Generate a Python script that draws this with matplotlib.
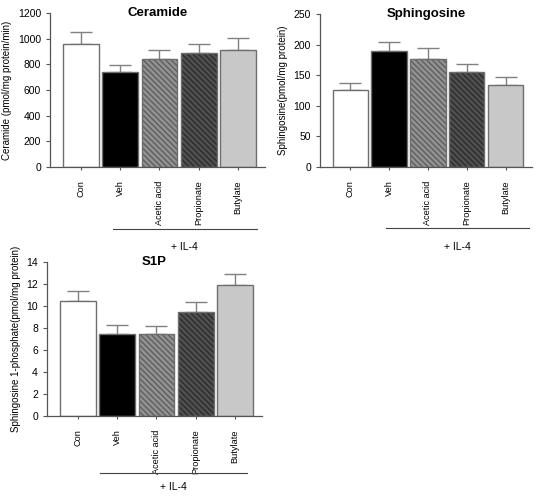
import numpy as np
import matplotlib
matplotlib.use("Agg")
import matplotlib.pyplot as plt
import matplotlib.transforms as mtransforms

plt.rcParams['font.family'] = ['Liberation Sans', 'DejaVu Sans']
plt.rcParams['hatch.linewidth'] = 1.0

groups = ["Con", "Veh", "Acetic acid", "Propionate", "Butylate"]

ceramide_mean = [960, 737, 844, 887, 911]
ceramide_err = [91, 58, 70, 70, 94]

sphingosine_mean = [126, 190, 176, 156, 134]
sphingosine_err = [11, 15, 18, 13, 13]

s1p_mean = [10.5, 7.5, 7.5, 9.45, 11.88]
s1p_err = [0.86, 0.74, 0.68, 0.91, 1.06]

face_colors = ["white", "black", "#929292", "#505050", "#c8c8c8"]
hatch_colors = ["white", "black", "#5e5e5e", "#2c2c2c", "#c8c8c8"]
hatches = [None, None, "\\\\\\\\\\\\", "\\\\\\\\\\\\", None]


def draw_panel(ax, means, errs, title, ylabel, ymax, ystep, line_y, text_y, line_x):
    x = np.arange(len(groups))
    for i in range(len(groups)):
        ax.bar(x[i], means[i], width=0.91, color=face_colors[i],
               edgecolor=hatch_colors[i], hatch=hatches[i], linewidth=0, zorder=2)
        ax.bar(x[i], means[i], width=0.91, fill=False,
               edgecolor="#6e6e6e", linewidth=1.0, zorder=3)
    ax.errorbar(x, means, yerr=[np.zeros(len(errs)), errs], fmt='none',
                ecolor="#808080", elinewidth=1.0, capsize=8, capthick=1.0, zorder=1)
    ax.set_xlim(-0.78, 4.68)
    ax.set_ylim(0, ymax)
    ax.set_yticks(np.arange(0, ymax + ystep / 2, ystep))
    ax.set_xticks(x)
    ax.set_xticklabels(groups, rotation=90, fontsize=6.6)
    ax.tick_params(axis='y', labelsize=7.5, length=3, width=0.8, color="#555555")
    ax.tick_params(axis='x', length=2.5, width=0.8, color="#555555", pad=7)
    for s in ["top", "right"]:
        ax.spines[s].set_visible(False)
    for s in ["left", "bottom"]:
        ax.spines[s].set_color("#555555")
        ax.spines[s].set_linewidth(0.9)
    ax.set_ylabel(ylabel, fontsize=7, labelpad=4)
    ax.text(0.5, 1.0, title, transform=ax.transAxes, ha='center', va='center',
            fontsize=9.5, fontweight='bold')
    trans = mtransforms.blended_transform_factory(ax.transData, ax.transAxes)
    ax.plot(line_x, [line_y, line_y], color="#444444", linewidth=0.8,
            transform=trans, clip_on=False)
    ax.text(np.mean(line_x), text_y, "+ IL-4", transform=trans, ha='center',
            va='center', fontsize=7.5)


fig = plt.figure(figsize=(5.45, 4.98), dpi=100)

ax1 = fig.add_axes([50 / 545, 1 - 167 / 498, 215 / 545, 154 / 498])
draw_panel(ax1, ceramide_mean, ceramide_err, "Ceramide",
           "Ceramide (pmol/mg protein/min)", 1200, 200, -0.40, -0.52, [0.82, 4.47])

ax2 = fig.add_axes([320 / 545, 1 - 167 / 498, 212 / 545, 153 / 498])
draw_panel(ax2, sphingosine_mean, sphingosine_err, "Sphingosine",
           "Sphingosine(pmol/mg protein)", 250, 50, -0.40, -0.52, [0.92, 4.6])

ax3 = fig.add_axes([47 / 545, 1 - 416 / 498, 215 / 545, 154 / 498])
draw_panel(ax3, s1p_mean, s1p_err, "S1P",
           "Sphingosine 1-phosphate(pmol/mg protein)", 14, 2, -0.37, -0.46, [0.57, 4.3])

fig.savefig("out.png", dpi=100)
